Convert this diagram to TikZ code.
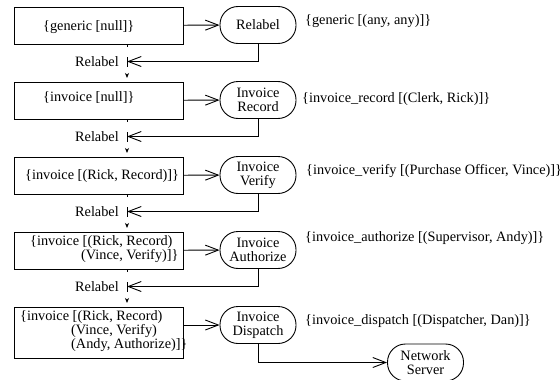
\documentclass[tikz,border=0pt]{standalone}
\usepackage{fontspec}
\setmainfont[Ligatures=NoCommon]{Liberation Serif}
\usetikzlibrary{arrows.meta,calc}
\begin{document}
\begin{tikzpicture}[x=1pt,y=-1pt,
  lw/.style={line width=0.9pt},
  box/.style={draw,lw,minimum width=169pt,minimum height=37pt,inner sep=0pt,anchor=north west},
  proc/.style={draw,lw,rounded corners=18pt,minimum width=76pt,minimum height=37pt,inner sep=0pt,align=center,font=\fontsize{14.3}{14}\selectfont},
  txt/.style={inner sep=0pt,anchor=base west,font=\fontsize{14.3}{14}\selectfont},
  rtxt/.style={inner sep=0pt,anchor=base east,font=\fontsize{14.3}{14}\selectfont},
  barb/.style={lw,-{Straight Barb[length=13pt,width=10pt,line width=0.9pt]}},
  flow/.style={lw,dash pattern=on 3pt off 10pt on 10pt off 30pt,-{Stealth[length=5pt,width=4pt,inset=1.5pt]}}
]
\useasboundingbox (0,0) rectangle (560,380);
\clip (0,0) rectangle (560,380);
\coordinate (vx) at (127,0);
% boxes
\node[box] (b1) at (14,6.5) {};
\node[box] (b2) at (14,81.5) {};
\node[box] (b3) at (14,156.5) {};
\node[box] (b4) at (14,231.5) {};
\node[box,minimum height=51pt] (b5) at (14,306.5) {};
% box texts
\node[txt] (t1) at (43,30.5) {\{generic [null]\}};
\node[txt] (t2) at (43,101) {\{invoice [null]\}};
\node[txt] (t3) at (25,179.5) {\{invoice [(Rick, Record)]\}};
\node[txt] (t4a) at (30,245) {\{invoice [(Rick, Record)};
\node[txt] (t4b) at (81,259.5) {(Vince, Verify)]\}};
\node[txt] (t5a) at (20,320.5) {\{invoice [(Rick, Record)};
\node[txt] (t5b) at (71,334.5) {(Vince, Verify)};
\node[txt] (t5c) at (71,348.5) {(Andy, Authorize)]\}};
% process nodes
\node[proc] (n1) at (258,25) {Relabel};
\node[proc] (n2) at (258,100) {Invoice\\Record};
\node[proc] (n3) at (258,175) {Invoice\\Verify};
\node[proc] (n4) at (258,250) {Invoice\\Authorize};
\node[proc] (n5) at (258,325) {Invoice\\Dispatch};
\node[proc] (ns) at (425.5,362.5) {Network\\Server};
% right labels
\node[txt] (l1) at (305,24.5) {\{generic [(any, any)]\}};
\node[txt] (l2) at (302,102.5) {\{invoice\_record [(Clerk, Rick)]\}};
\node[txt] (l3) at (306,174.5) {\{invoice\_verify [(Purchase Officer, Vince)]\}};
\node[txt] (l4) at (305,241.5) {\{invoice\_authorize [(Supervisor, Andy)]\}};
\node[txt] (l5) at (305,324.5) {\{invoice\_dispatch [(Dispatcher, Dan)]\}};
% relabel labels and junctions
\foreach \i/\y in {1/61.5,2/136.5,3/211.5,4/286.5}{
  \coordinate (j\i) at (127,\y);
  \node[rtxt] (r\i) at (119,\y+4.5) {Relabel};
}
% box -> process arrows
\draw[barb] (b1) -- (n1);
\draw[barb] (b2) -- (n2);
\draw[barb] (b3) -- (n3);
\draw[barb] (b4) -- (n4);
\draw[barb] (b5.east |- n5.west) -- (n5.west);
% return arrows
\draw[barb] (n1.south) |- (j1);
\draw[barb] (n2.south) |- (j2);
\draw[barb] (n3.south) |- (j3);
\draw[barb] (n4.south) |- (j4);
\draw[barb] (n5.south) |- (ns.west);
% dashed flow between boxes
\draw[flow] (b1.south -| vx) -- ($(b2.north -| vx)+(0,-3.5)$);
\draw[flow] (b2.south -| vx) -- ($(b3.north -| vx)+(0,-3.5)$);
\draw[flow] (b3.south -| vx) -- ($(b4.north -| vx)+(0,-3.5)$);
\draw[flow] (b4.south -| vx) -- ($(b5.north -| vx)+(0,-3.5)$);
\end{tikzpicture}
\end{document}
